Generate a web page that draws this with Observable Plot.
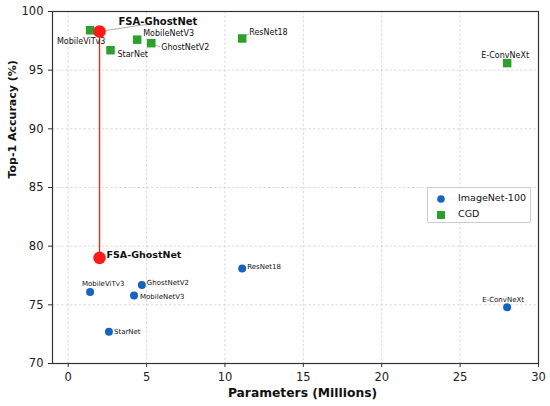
<!DOCTYPE html>
<html><head><meta charset="utf-8">
<script src="https://cdn.jsdelivr.net/npm/d3@7"></script>
<script src="https://cdn.jsdelivr.net/npm/@observablehq/plot@0.6"></script>
<style>
body{margin:0;background:#fff;}
#wrap{position:relative;width:550px;height:406px;font-family:"DejaVu Sans",sans-serif;background:#fff;}
#wrap svg{font-family:"DejaVu Sans",sans-serif;}
.legend{position:absolute;left:427px;top:187px;width:104px;height:36px;border:1px solid #ccc;border-radius:2px;background:rgba(255,255,255,0.85);font-size:9.5px;color:#111;box-sizing:border-box;}
.legend .it{position:absolute;left:0;height:14px;display:flex;align-items:center;}
.legend svg{position:absolute;left:7px;top:2px;}
.legend span{position:absolute;left:30px;white-space:nowrap;line-height:14px;}
</style></head>
<body><div id="wrap"></div>
<script>
// ---- data ----
const models = ["MobileViTv3", "FSA-GhostNet", "StarNet", "MobileNetV3", "GhostNetV2", "ResNet18", "E-ConvNeXt"];
const paramsCGD = [1.4, 2.0, 2.7, 4.4, 5.3, 11.1, 28.0];
const accCGD    = [98.4, 98.3, 96.7, 97.6, 97.3, 97.7, 95.6];
const paramsIN  = [1.4, 2.0, 2.6, 4.2, 4.7, 11.1, 28.0];
const accIN     = [76.1, 79.0, 72.7, 75.8, 76.7, 78.1, 74.8];
const seriesNames = ["ImageNet-100", "CGD"];
const xTicks = [0, 5, 10, 15, 20, 25, 30];
const yTicks = [70, 75, 80, 85, 90, 95, 100];
const xTitle = "Parameters (Millions)";
const yTitle = "Top-1 Accuracy (%)";

// ---- styles ----
const BLUE = "#1565c0", GREEN = "#2ca02c", RED = "#ff1a1a";
const W = 550, H = 406, ML = 52, MR = 12, MT = 11, MB = 43;
const xDomain = [-1, 30], yDomain = [70, 100];
// label offsets in pixels (relative to the point)
const labCGD = {
  "MobileViTv3": {dx: -9, dy: 11, a: "middle"},
  "FSA-GhostNet": {dx: 19, dy: -10, a: "start", bold: true, lead: [47, -7]},
  "StarNet": {dx: 7, dy: 4, a: "start"},
  "MobileNetV3": {dx: 6, dy: -6, a: "start"},
  "GhostNetV2": {dx: 10, dy: 4, a: "start", lead: [9, 4]},
  "ResNet18": {dx: 7, dy: -6, a: "start", lead: [7, -5]},
  "E-ConvNeXt": {dx: -2, dy: -8, a: "middle"}
};
const labIN = {
  "MobileViTv3": {dx: 13, dy: -8, a: "middle"},
  "FSA-GhostNet": {dx: 7, dy: -3, a: "start", bold: true},
  "StarNet": {dx: 5, dy: 0, a: "start"},
  "MobileNetV3": {dx: 6, dy: 1, a: "start"},
  "GhostNetV2": {dx: 5, dy: -2, a: "start"},
  "ResNet18": {dx: 5, dy: -2, a: "start"},
  "E-ConvNeXt": {dx: -4, dy: -7, a: "middle"}
};

const cgd = models.map((m, i) => ({model: m, params: paramsCGD[i], acc: accCGD[i]}));
const inet = models.map((m, i) => ({model: m, params: paramsIN[i], acc: accIN[i]}));
const fsaIdx = models.indexOf("FSA-GhostNet");

const sx = Plot.scale({x: {domain: xDomain, range: [ML, W - MR]}});
const sy = Plot.scale({y: {domain: yDomain, range: [H - MB, MT]}});

const leaders = cgd.filter(d => labCGD[d.model].lead).map(d => {
  const [ex, ey] = labCGD[d.model].lead;
  return {x1: d.params, y1: d.acc,
          x2: sx.invert(sx.apply(d.params) + ex), y2: sy.invert(sy.apply(d.acc) + ey)};
});

function labelMarks(data, cfg, size, boldSize) {
  return data.map(d => {
    const c = cfg[d.model];
    return Plot.text([d], {x: "params", y: "acc", text: "model", dx: c.dx, dy: c.dy,
      textAnchor: c.a, lineAnchor: "middle", fontSize: c.bold ? boldSize : size,
      fontWeight: c.bold ? "bold" : "normal", fill: "#111"});
  });
}

const chart = Plot.plot({
  width: W, height: H,
  marginLeft: ML, marginRight: MR, marginTop: MT, marginBottom: MB,
  x: {domain: xDomain},
  y: {domain: yDomain},
  style: {fontFamily: "DejaVu Sans", background: "#fff"},
  marks: [
    Plot.gridX(xTicks, {stroke: "#c8c8c8", strokeOpacity: 1, strokeWidth: 0.7, strokeDasharray: "2.5,2"}),
    Plot.gridY(yTicks, {stroke: "#c8c8c8", strokeOpacity: 1, strokeWidth: 0.7, strokeDasharray: "2.5,2"}),
    Plot.axisX({ticks: xTicks, tickSize: 4, fontSize: 11.5, color: "#222", stroke: "#333", label: null}),
    Plot.axisY({ticks: yTicks, tickSize: 4, fontSize: 11.5, color: "#222", stroke: "#333", label: null}),
    Plot.text([xTitle], {text: d => d, frameAnchor: "bottom", dx: 7, dy: 30, lineAnchor: "middle",
      fontSize: 12.3, fontWeight: "bold", fill: "#111"}),
    Plot.text([yTitle], {text: d => d, frameAnchor: "left", rotate: -90, dx: -40, dy: -9,
      lineAnchor: "middle", fontSize: 11, fontWeight: "bold", fill: "#111"}),
    Plot.link(leaders, {x1: "x1", y1: "y1", x2: "x2", y2: "y2", stroke: "#999", strokeWidth: 0.8}),
    Plot.ruleX([{params: paramsCGD[fsaIdx], lo: accIN[fsaIdx], hi: accCGD[fsaIdx]}],
      {x: "params", y1: "lo", y2: "hi", stroke: RED, strokeWidth: 1.3}),
    Plot.dot(cgd.filter(d => d.model !== "FSA-GhostNet"),
      {x: "params", y: "acc", symbol: "square", r: 4.8, fill: GREEN, stroke: "none"}),
    Plot.dot(inet.filter(d => d.model !== "FSA-GhostNet"),
      {x: "params", y: "acc", symbol: "circle", r: 4, fill: BLUE, stroke: "none"}),
    Plot.dot([cgd[fsaIdx], inet[fsaIdx]], {x: "params", y: "acc", r: 6.3, fill: RED, stroke: "none"}),
    ...labelMarks(cgd, labCGD, 8, 10),
    ...labelMarks(inet, labIN, 7, 9.5),
    Plot.frame({stroke: "#333", strokeWidth: 1.2})
  ]
});

const wrap = document.getElementById("wrap");
wrap.appendChild(chart);

// legend
const leg = document.createElement("div");
leg.className = "legend";
const sym = [
  `<svg width="12" height="12"><circle cx="6" cy="6" r="3.8" fill="${BLUE}"/></svg>`,
  `<svg width="12" height="12"><rect x="2" y="2" width="8" height="8" fill="${GREEN}"/></svg>`
];
seriesNames.forEach((s, i) => {
  const it = document.createElement("div");
  it.className = "it";
  it.style.top = (3 + i * 16) + "px";
  it.innerHTML = sym[i] + `<span>${s}</span>`;
  leg.appendChild(it);
});
wrap.appendChild(leg);
</script>
</body></html>
